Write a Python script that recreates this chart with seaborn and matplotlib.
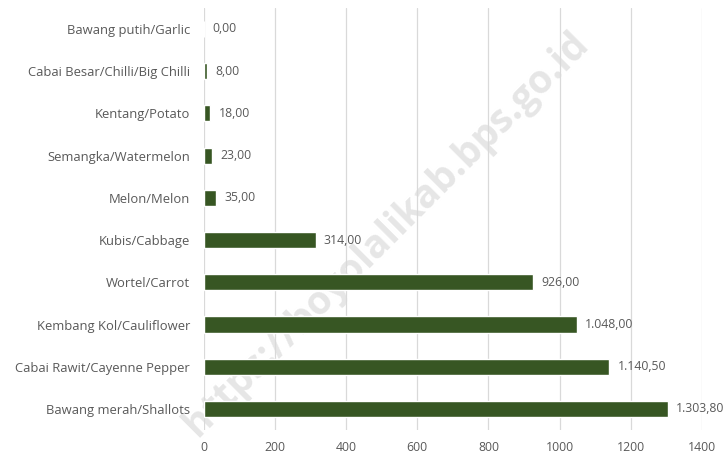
import matplotlib
matplotlib.use("Agg")
import matplotlib.pyplot as plt
import pandas as pd
import seaborn as sns

CATEGORIES = [
    "Bawang putih/Garlic",
    "Cabai Besar/Chilli/Big Chilli",
    "Kentang/Potato",
    "Semangka/Watermelon",
    "Melon/Melon",
    "Kubis/Cabbage",
    "Wortel/Carrot",
    "Kembang Kol/Cauliflower",
    "Cabai Rawit/Cayenne Pepper",
    "Bawang merah/Shallots",
]
VALUES = [0.0, 8.0, 18.0, 23.0, 35.0, 314.0, 926.0, 1048.0, 1140.5, 1303.8]
X_TICKS = [0, 200, 400, 600, 800, 1000, 1200, 1400]

BAR_COLOR = "#375623"
TEXT_COLOR = "#595959"


def fmt_id(v):
    # Indonesian number format: 1.303,80
    s = f"{v:,.2f}"
    return s.replace(",", "X").replace(".", ",").replace("X", ".")


def plot_data(df):
    sns.set_style("white")
    plt.rcParams["font.family"] = ["Open Sans", "DejaVu Sans"]

    fig = plt.figure(figsize=(7.28, 4.59), dpi=100)
    ax = fig.add_axes([0.280, 0.063, 0.684, 0.920])

    sns.barplot(x="Value", y="Category", data=df, ax=ax, color=BAR_COLOR,
                saturation=1, width=0.38, errorbar=None, orient="h")

    ax.set_xlim(0, 1400)
    ax.set_ylim(9.5, -0.5)
    ax.set_xticks(X_TICKS)
    ax.set_xticklabels([str(t) for t in X_TICKS])
    ax.grid(axis="x", color="#d9d9d9", linewidth=0.9)
    ax.set_axisbelow(True)
    for side in ["top", "right", "bottom", "left"]:
        ax.spines[side].set_visible(False)
    ax.tick_params(axis="x", length=0, labelsize=8.8, colors=TEXT_COLOR, pad=8)
    ax.tick_params(axis="y", length=0, labelsize=9.4, colors=TEXT_COLOR, pad=10)
    ax.set_xlabel("")
    ax.set_ylabel("")

    for container in ax.containers:
        ax.bar_label(container, labels=[fmt_id(v) for v in df["Value"]],
                     padding=6, fontsize=8.8, color=TEXT_COLOR)

    # faint watermark behind the bars
    ax.text(0.53, 0.49, "https://boyolalikab.bps.go.id", rotation=45,
            ha="center", va="center", fontsize=28, color="#e6e6e6",
            fontweight="bold", transform=fig.transFigure, clip_on=False,
            zorder=0.3)

    fig.savefig("out.png", dpi=100)


def main():
    df = pd.DataFrame({"Category": CATEGORIES, "Value": VALUES})
    plot_data(df)


if __name__ == "__main__":
    main()
